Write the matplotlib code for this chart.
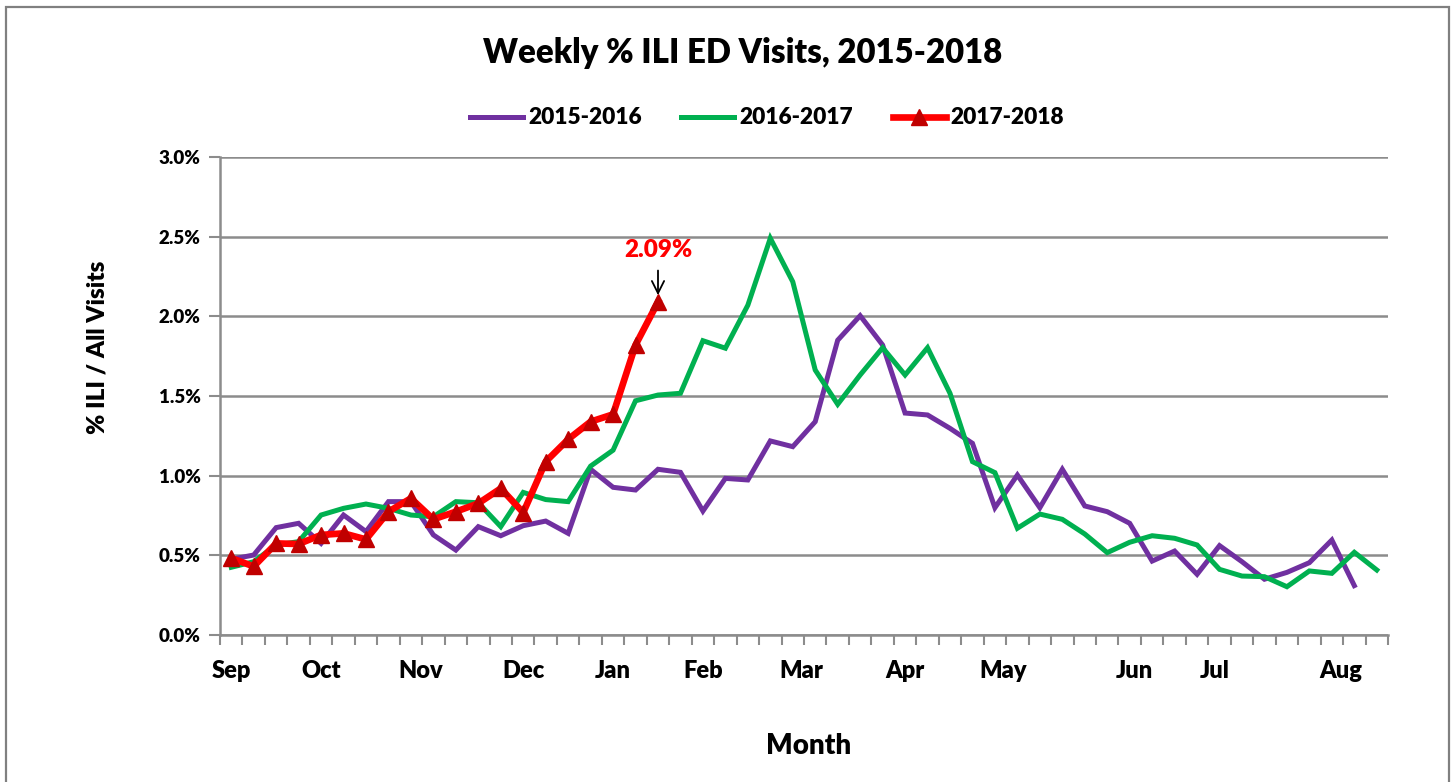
import matplotlib
matplotlib.use("Agg")
import matplotlib.pyplot as plt
from matplotlib.patches import Rectangle
from matplotlib.ticker import FuncFormatter, FixedLocator
import numpy as np

# ---- data (percent of ED visits) ----
season_2015_2016 = [0.475, 0.502, 0.674, 0.701, 0.575, 0.753, 0.649, 0.837, 0.837, 0.628,
                    0.533, 0.680, 0.623, 0.686, 0.715, 0.638, 1.040, 0.927, 0.910, 1.040,
                    1.021, 0.778, 0.983, 0.973, 1.218, 1.182, 1.339, 1.850, 2.004, 1.820,
                    1.393, 1.381, 1.297, 1.203, 0.799, 1.004, 0.799, 1.040, 0.810, 0.774,
                    0.701, 0.464, 0.527, 0.381, 0.561, 0.460, 0.350, 0.393, 0.454, 0.596,
                    0.310]
season_2016_2017 = [0.425, 0.460, 0.565, 0.586, 0.753, 0.795, 0.822, 0.795, 0.753, 0.742,
                    0.837, 0.830, 0.680, 0.895, 0.850, 0.837, 1.060, 1.160, 1.470, 1.506,
                    1.517, 1.847, 1.800, 2.070, 2.490, 2.217, 1.663, 1.448, 1.632, 1.803,
                    1.632, 1.803, 1.517, 1.088, 1.019, 0.670, 0.759, 0.726, 0.634, 0.517,
                    0.582, 0.623, 0.607, 0.565, 0.412, 0.370, 0.366, 0.303, 0.402, 0.387,
                    0.519, 0.408]
season_2017_2018 = [0.483, 0.430, 0.575, 0.571, 0.628, 0.638, 0.600, 0.774, 0.858, 0.726,
                    0.774, 0.826, 0.920, 0.768, 1.088, 1.228, 1.339, 1.385, 1.820, 2.090]
series_labels = ["2015-2016", "2016-2017", "2017-2018"]
month_labels = ["Sep", "Oct", "Nov", "Dec", "Jan", "Feb", "Mar", "Apr", "May", "Jun", "Jul", "Aug"]
month_label_pos = [0, 4, 8.45, 13, 17, 21, 25.4, 30, 34.35, 40.2, 43.8, 49.4]
n_weeks = 52
y_ticks = [0.0, 0.5, 1.0, 1.5, 2.0, 2.5, 3.0]

FONT = ["Lato", "DejaVu Sans"]
WT = "heavy"
plt.rcParams["font.family"] = FONT
plt.rcParams["font.weight"] = WT

W, H = 1455, 782
fig = plt.figure(figsize=(W / 100, H / 100), dpi=100)
fig.patch.set_facecolor("white")

# outer chart border
fig.patches.append(Rectangle((6 / W, -0.02), (1449 - 6) / W, 1.02 - 7 / H,
                             transform=fig.transFigure, fill=False,
                             edgecolor="#808080", linewidth=1.6))

ax = fig.add_axes([220 / W, 1 - 635 / H, (1388 - 220) / W, (635 - 157) / H])

grid_c = "#8c8c8c"
ax.set_xlim(-0.5, n_weeks - 0.5)
ax.set_ylim(0, 3.0)
ax.set_yticks(y_ticks)
ax.yaxis.set_major_formatter(FuncFormatter(lambda v, p: f"{v:.1f}%"))
ax.grid(axis="y", color=grid_c, linewidth=1.8)
ax.set_axisbelow(True)

for s in ["top", "right"]:
    ax.spines[s].set_visible(False)
for s in ["left", "bottom"]:
    ax.spines[s].set_color(grid_c)
    ax.spines[s].set_linewidth(1.8)

ax.xaxis.set_major_locator(FixedLocator(month_label_pos))
ax.set_xticklabels(month_labels)
ax.xaxis.set_minor_locator(FixedLocator(np.arange(-0.5, n_weeks, 1.0)))
ax.tick_params(axis="x", which="major", length=0, pad=18, labelsize=17)
ax.tick_params(axis="x", which="minor", length=7, width=1.5, color=grid_c, direction="out")
ax.tick_params(axis="y", which="major", length=8, width=1.5, color=grid_c, labelsize=13.5, pad=6)
for lab in ax.get_xticklabels() + ax.get_yticklabels():
    lab.set_fontweight(WT)

x1 = np.arange(len(season_2015_2016))
x2 = np.arange(len(season_2016_2017))
x3 = np.arange(len(season_2017_2018))
l1, = ax.plot(x1, season_2015_2016, color="#7030A0", linewidth=3.6,
              solid_joinstyle="miter", label=series_labels[0])
l2, = ax.plot(x2, season_2016_2017, color="#00B050", linewidth=3.6,
              solid_joinstyle="miter", label=series_labels[1])
l3, = ax.plot(x3, season_2017_2018, color="#FF0000", linewidth=4.8,
              marker="^", markersize=11.5, markerfacecolor="#C00000",
              markeredgecolor="#C00000", label=series_labels[2])

# annotation of latest value
last_i = len(season_2017_2018) - 1
last_v = season_2017_2018[-1]
ax.annotate("", xy=(last_i, last_v + 0.025), xytext=(last_i, last_v + 0.215),
            arrowprops=dict(arrowstyle="->", color="black", lw=1.3, mutation_scale=22))
ax.text(last_i, last_v + 0.325, f"{last_v:.2f}%", color="#FF0000",
        ha="center", va="center", fontsize=17.5, fontweight=WT)

fig.text(809 / W, 1 - 746 / H, "Month", ha="center", va="center",
         fontsize=20, fontweight=WT)
fig.text(98 / W, 1 - 347 / H, "% ILI / All Visits", ha="center", va="center",
         rotation=90, fontsize=17.5, fontweight=WT)

fig.text(743 / W, 1 - 53 / H, "Weekly % ILI ED Visits, 2015-2018",
         ha="center", va="center", fontsize=23.7, fontweight=WT)

leg = fig.legend(handles=[l1, l2, l3], labels=series_labels, loc="center",
                 bbox_to_anchor=(767 / W, 1 - 118 / H), ncol=3, frameon=False,
                 prop={"size": 16.3, "weight": WT},
                 handlelength=2.35, handletextpad=0.22, columnspacing=1.75)

fig.savefig("out.png", dpi=100, facecolor="white")
